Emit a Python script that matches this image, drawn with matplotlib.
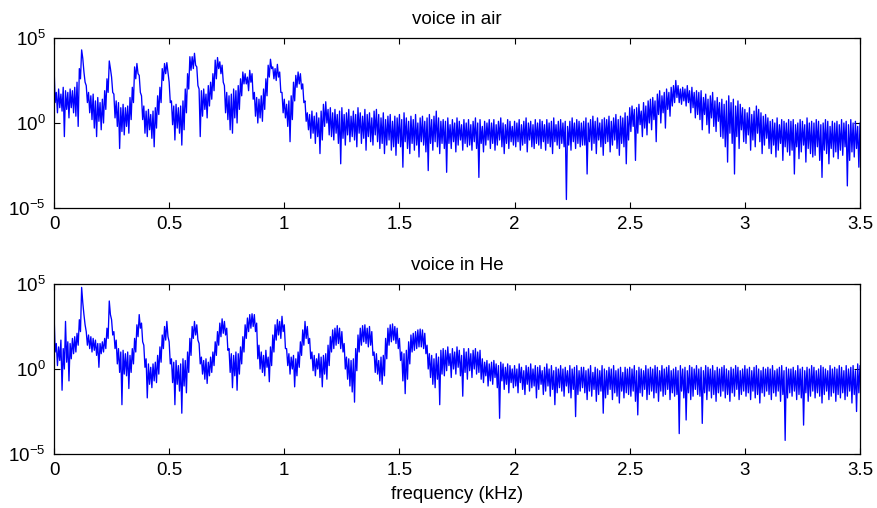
import numpy as np
import matplotlib
matplotlib.use("Agg")
import matplotlib.pyplot as plt
from matplotlib.ticker import FixedLocator, NullLocator, FixedFormatter

plt.rcParams['font.family'] = ['Liberation Sans', 'DejaVu Sans']
plt.rcParams['mathtext.fontset'] = 'custom'
plt.rcParams['mathtext.rm'] = 'Liberation Sans'
plt.rcParams['mathtext.it'] = 'Liberation Sans'

# frequency grid (kHz) step 0.01, each bin has an upper and lower sample (log10 magnitude)
freq_step = 0.01
n_bins = 351

# ---------------- voice in air ----------------
air_hi = [
 3.4, 1.8, 2.0, 1.7, 2.1, 1.9, 1.8, 2.0, 1.9, 2.1,
 2.4, 3.2, 4.3, 3.0, 2.2, 1.8, 1.6, 1.7, 1.3, 1.5,
 1.2, 1.4, 1.9, 2.6, 3.65, 2.7, 1.7, 1.3, 1.2, 0.9,
 1.1, 0.9, 1.0, 1.5, 2.1, 3.3, 3.5, 2.8, 1.6, 1.0,
 0.7, 0.8, 0.5, 0.7, 0.9, 1.6, 2.1, 3.2, 3.5, 3.55,
 2.4, 1.3, 1.0, 1.1, 0.9, 1.0, 1.3, 2.0, 2.9, 3.9,
 3.9, 4.1, 3.3, 2.0, 1.9, 2.0, 1.7, 2.2, 2.4, 2.9,
 3.7, 3.85, 3.6, 3.4, 2.2, 1.8, 1.6, 1.7, 2.0, 1.9,
 2.2, 2.6, 3.0, 2.9, 2.7, 3.1, 2.9, 1.8, 1.5, 1.4,
 1.6, 2.0, 2.6, 3.4, 3.75, 3.3, 3.2, 3.45, 3.0, 1.8,
 1.4, 1.1, 1.3, 1.6, 2.4, 2.8, 3.0, 2.9, 2.3, 1.3,
 0.6, 0.5, 0.7, 0.4, 0.6, 0.3, 0.7, 1.1, 1.25, 0.8,
 0.9, 0.6, 0.8, 0.5, 0.7, 0.9, 0.5, 0.6, 0.8, 0.4,
 0.7, 0.5, 0.9, 0.6, 0.4, 0.8, 0.5, 0.6, 0.3, 0.7,
 0.8, 0.5, 0.3, 0.6, 0.2, 0.4, 0.5, 0.1, 0.4, 0.3,
 0.5, 0.2, 0.6, 0.3, 0.1, 0.4, 0.2, 0.5, 0.0, 0.3,
 0.4, 0.1, 0.3, 0.5, 0.2, 0.4, 0.7, 0.3, 0.1, 0.2,
 0.1, 0.3, -0.1, 0.2, 0.0, 0.3, 0.1, -0.1, 0.2, 0.0,
 0.2, -0.1, 0.1, 0.3, 0.0, 0.2, -0.2, 0.1, 0.0, 0.2,
 0.0, 0.2, -0.1, 0.1, 0.3, 0.0, -0.1, 0.2, 0.1, -0.2,
 0.1, 0.0, 0.2, -0.1, 0.1, 0.3, 0.0, 0.1, -0.1, 0.2,
 0.0, 0.2, 0.1, -0.1, 0.2, 0.0, 0.1, 0.3, -0.1, 0.1,
 0.2, 0.0, 0.1, -0.2, 0.1, 0.3, 0.0, 0.2, 0.1, 0.0,
 0.1, 0.3, 0.0, 0.2, 0.4, 0.1, 0.3, 0.0, 0.2, 0.3,
 0.2, 0.4, 0.1, 0.3, 0.5, 0.2, 0.4, 0.3, 0.6, 0.4,
 0.9, 1.0, 0.8, 0.9, 1.1, 0.7, 1.2, 1.0, 1.3, 1.4,
 1.5, 1.3, 1.7, 1.9, 1.6, 1.8, 2.0, 1.8, 2.1, 2.2,
 2.5, 2.2, 2.0, 2.1, 2.0, 2.2, 1.9, 2.1, 1.8, 1.9,
 1.8, 1.9, 1.5, 1.7, 1.4, 1.6, 1.8, 1.3, 1.5, 1.2,
 1.4, 1.1, 1.3, 1.6, 1.2, 1.4, 1.0, 1.3, 1.1, 0.9,
 0.8, 0.6, 0.9, 0.5, 0.7, 1.0, 0.8, 0.6, 0.4, 0.5,
 0.3, 0.1, 0.2, 0.0, 0.3, -0.1, 0.2, 0.1, 0.0, 0.2,
 0.1, 0.2, -0.1, 0.0, 0.2, 0.1, -0.1, 0.3, 0.0, 0.1,
 0.0, 0.2, 0.1, -0.1, 0.0, 0.2, 0.1, -0.2, 0.1, 0.0,
 0.1, -0.1, 0.2, 0.0, 0.1, -0.1, 0.2, 0.0, 0.1, -0.2, 0.0,
]
air_lo = [
 1.2, 0.6, 0.9, 0.7, -0.8, 0.8, 0.3, 0.9, 0.6, 0.4,
 -0.2, 2.6, 3.8, 2.4, 1.2, 0.6, 0.2, -0.3, -0.8, 0.1,
 -0.4, 0.0, 0.8, 1.8, 3.2, 1.8, 0.3, -0.2, -1.5, -0.5,
 -0.7, -0.2, -0.6, 0.2, 1.2, 2.6, 2.9, 1.8, 0.2, -0.6,
 -0.8, -0.4, -0.9, -1.4, -0.3, 0.5, 1.2, 2.5, 2.9, 3.0,
 1.2, -0.1, -1.0, -0.3, -0.6, -1.3, -0.4, 0.6, 2.0, 3.1,
 3.2, 3.4, 2.2, -0.8, 0.4, 0.8, 0.3, 1.0, 1.4, 1.9,
 2.6, 3.2, 2.9, 2.4, 0.6, 0.2, -0.4, -0.6, 0.3, 0.0,
 0.8, 1.6, 2.3, 2.3, 1.9, 2.4, 1.4, 0.4, 0.0, 0.3,
 0.1, 0.8, 1.6, 2.7, 3.2, 2.6, 2.5, 2.7, 1.8, 0.6,
 0.3, -0.2, -1.1, 0.2, 1.3, 2.1, 2.3, 2.0, 1.2, 0.1,
 -0.4, -0.9, -0.6, -1.2, -0.8, -1.8, -1.0, -0.2, 0.0, -0.7,
 -0.8, -1.0, -0.6, -1.2, -2.4, -0.9, -1.3, -0.7, -1.1, -0.8,
 -1.0, -1.4, -0.6, -1.2, -0.9, -1.6, -0.8, -1.1, -1.3, -0.7,
 -1.1, -1.5, -1.2, -1.8, -1.3, -1.0, -1.6, -1.4, -1.9, -1.2,
 -1.4, -2.6, -1.1, -1.5, -1.8, -1.2, -1.6, -1.3, -2.0, -1.1,
 -1.3, -1.7, -2.8, -1.2, -1.6, -1.1, -1.4, -1.8, -1.2, -1.5,
 -2.9, -1.2, -1.5, -1.1, -1.7, -1.3, -1.0, -1.6, -1.2, -1.4,
 -1.3, -1.6, -1.1, -1.5, -3.2, -1.2, -1.7, -1.3, -1.0, -1.5,
 -1.2, -1.6, -1.3, -1.0, -1.4, -1.8, -1.2, -1.5, -1.1, -1.3,
 -1.4, -1.1, -1.6, -1.3, -1.2, -1.7, -1.0, -1.4, -1.5, -1.2,
 -1.3, -1.5, -1.1, -1.6, -1.2, -1.4, -1.8, -1.1, -1.3, -1.5,
 -1.2, -1.4, -4.5, -1.3, -1.6, -1.1, -1.5, -1.2, -1.4, -1.3,
 -1.3, -3.0, -1.1, -1.6, -1.2, -1.8, -1.0, -1.4, -1.9, -1.2,
 -1.1, -1.7, -1.3, -1.0, -1.5, -1.9, -1.2, -1.4, -2.4, -1.0,
 -0.5, -0.2, -2.2, -0.6, -0.1, -0.8, -0.3, -0.7, 0.0, -0.4,
 0.2, -1.1, 0.5, 0.0, 0.6, -0.3, 0.8, 0.4, 1.0, 1.2,
 1.5, 1.2, 1.1, 1.3, 1.0, 1.2, 0.6, 0.9, 0.3, 0.5,
 0.2, -0.4, 0.5, -0.1, -0.6, 0.3, -0.2, -0.5, 0.1, -0.8,
 -0.9, -1.4, -2.3, -0.6, -1.2, -3.0, -0.8, -1.5, -0.4, -1.1,
 -1.2, -0.7, -1.6, -1.0, -1.4, -0.6, -1.1, -1.8, -1.3, -0.9,
 -1.5, -1.8, -1.3, -2.0, -1.6, -1.2, -2.2, -1.4, -1.7, -1.9,
 -1.6, -3.0, -1.4, -2.1, -1.7, -1.3, -2.3, -1.5, -1.8, -2.0,
 -1.9, -1.4, -2.2, -3.2, -1.6, -1.8, -2.4, -1.5, -2.0, -1.7,
 -2.1, -1.6, -1.9, -1.4, -3.7, -2.2, -1.7, -2.0, -1.5, -2.6, -0.6,
]

# ---------------- voice in He ----------------
he_hi = [
 3.35, 1.5, 1.3, 1.7, 1.2, 2.8, 1.6, 1.5, 1.8, 1.9,
 2.1, 2.9, 4.8, 3.2, 2.2, 2.0, 1.9, 1.8, 1.7, 1.5,
 1.5, 1.6, 1.8, 2.4, 4.0, 2.9, 2.2, 1.7, 1.2, 1.0,
 1.1, 0.9, 1.0, 0.8, 1.2, 1.8, 2.6, 3.2, 2.7, 1.4,
 0.6, 0.3, 0.1, 0.3, 0.4, 0.8, 1.3, 2.0, 2.5, 2.8,
 1.6, 0.6, 0.4, 0.5, 0.2, 0.3, 0.6, 0.5, 1.0, 1.8,
 2.5, 2.8, 2.6, 1.5, 0.7, 0.5, 0.6, 0.4, 0.7, 1.0,
 1.6, 2.2, 2.7, 2.95, 2.8, 2.4, 1.2, 0.9, 0.8, 1.0,
 0.9, 1.3, 1.9, 2.6, 3.0, 3.2, 3.25, 3.2, 2.7, 1.4,
 1.0, 0.8, 1.1, 0.7, 1.3, 2.0, 2.6, 2.9, 2.8, 3.1,
 2.6, 1.2, 0.9, 0.7, 0.8, 0.6, 1.0, 1.6, 2.3, 2.8,
 2.5, 1.8, 1.0, 0.8, 0.6, 0.9, 0.7, 0.8, 0.9, 1.4,
 1.9, 2.3, 2.4, 2.55, 2.4, 2.2, 1.5, 0.7, 0.6, 0.5,
 0.6, 1.2, 2.0, 2.4, 2.55, 2.6, 2.4, 2.5, 2.2, 1.0,
 0.9, 0.5, 0.7, 0.8, 1.8, 2.4, 2.6, 2.65, 2.5, 2.4,
 1.8, 1.0, 0.9, 1.1, 1.6, 2.0, 2.1, 2.2, 2.3, 2.35,
 2.3, 2.1, 1.4, 0.9, 0.8, 0.6, 0.9, 0.7, 1.1, 1.2,
 1.1, 1.3, 0.9, 1.2, 1.0, 1.3, 1.1, 0.8, 1.2, 1.0,
 1.2, 0.9, 1.1, 1.2, 1.0, 1.1, 0.6, 0.4, 0.5, 0.3,
 0.4, 0.5, 0.3, 0.2, 0.4, 0.3, 0.1, 0.3, 0.2, 0.0,
 0.2, 0.0, 0.3, 0.1, -0.1, 0.2, 0.1, 0.3, 0.0, 0.2,
 0.1, 0.2, -0.1, 0.1, 0.3, 0.0, 0.2, -0.1, 0.1, 0.0,
 0.2, 0.0, 0.1, -0.1, 0.2, 0.0, 0.1, 0.2, -0.1, 0.1,
 0.1, -0.1, 0.0, 0.2, -0.2, 0.1, 0.0, -0.1, 0.2, 0.0,
 -0.1, 0.1, 0.0, 0.2, -0.1, 0.0, 0.1, -0.2, 0.1, 0.0,
 0.1, 0.0, 0.2, -0.1, 0.1, 0.0, -0.1, 0.2, 0.0, 0.1,
 0.0, 0.2, 0.1, -0.1, 0.2, 0.0, 0.1, 0.2, -0.1, 0.0,
 0.1, -0.1, 0.2, 0.0, 0.1, -0.1, 0.2, 0.1, 0.0, 0.2,
 0.0, 0.1, -0.1, 0.2, 0.1, 0.0, 0.2, -0.1, 0.1, 0.0,
 0.1, 0.2, 0.0, -0.1, 0.1, 0.0, 0.2, 0.1, -0.1, 0.0,
 0.2, 0.0, 0.1, -0.1, 0.1, 0.2, 0.0, -0.1, 0.1, 0.0,
 0.1, 0.0, 0.2, -0.1, 0.0, 0.1, 0.2, -0.1, 0.1, 0.0,
 0.0, 0.1, -0.1, 0.2, 0.0, 0.1, -0.1, 0.1, 0.0, 0.2,
 0.1, -0.1, 0.0, 0.2, 0.1, 0.0, -0.1, 0.2, 0.0, 0.1,
 0.0, 0.2, 0.1, -0.1, 0.2, 0.0, 0.1, 0.2, -0.1, 0.3, 0.2,
]
he_lo = [
 1.0, 0.2, 0.5, -1.25, 0.0, 0.4, -0.7, 0.6, 0.9, 1.0,
 1.4, 2.2, 3.9, 2.6, 1.4, 1.2, 1.0, 1.1, 0.8, 0.1,
 0.9, 1.0, 1.2, 1.8, 3.2, 2.0, 1.2, 0.3, -0.2, -2.1,
 -0.3, -0.4, -1.15, -0.2, 0.3, 1.0, 1.9, 2.4, 1.6, 0.1,
 -1.7, -0.9, -1.1, -0.7, -0.8, -0.3, 0.4, 1.2, 1.7, 1.9,
 0.3, -0.8, -2.1, -0.9, -1.3, -2.6, -1.0, -1.4, -0.2, 0.8,
 1.8, 2.0, 1.7, 0.3, -0.3, -0.6, -0.85, -0.4, -0.2, 0.2,
 0.8, 1.4, 1.9, 2.1, 2.0, 1.1, -0.2, -1.1, -0.4, -1.25,
 -0.3, 0.3, 1.0, 1.8, 2.2, 2.4, 2.5, 2.2, 0.6, 0.0,
 -0.2, -0.4, 0.1, -0.75, 0.2, 1.0, 1.7, 2.0, 1.8, 2.2,
 1.2, 0.2, -0.3, 0.0, -1.05, -0.4, 0.1, 0.8, 1.4, 1.8,
 1.5, 0.6, -0.1, -0.4, 0.0, -0.5, -1.05, -0.3, -0.6, 0.2,
 1.0, 1.2, 1.4, 1.5, 1.2, 1.0, 0.0, -0.6, -1.0, -1.35,
 -1.95, -0.1, 1.0, 1.4, 1.6, 1.5, 1.3, 1.4, 0.8, -0.2,
 -0.3, -0.7, -0.9, -0.4, 0.6, 1.4, 1.6, 1.7, 1.5, 1.2,
 0.5, -0.7, -1.45, -0.6, 0.3, 1.0, 1.1, 1.2, 1.3, 1.3,
 1.2, 0.9, 0.0, -0.5, -0.9, -1.1, -0.6, -2.1, -0.3, -0.4,
 -0.1, 0.2, -0.5, 0.0, -0.3, 0.1, -0.4, -1.6, -0.2, -0.6,
 -0.1, -0.5, 0.0, -0.3, -0.2, -0.6, -0.8, -0.4, -1.0, -0.7,
 -0.9, -0.5, -1.1, -2.9, -0.7, -1.2, -0.9, -1.4, -0.8, -1.1,
 -1.0, -1.4, -0.8, -1.2, -1.5, -0.9, -1.3, -1.1, -1.0, -1.7,
 -1.2, -0.9, -1.5, -1.3, -1.0, -1.6, -1.2, -2.1, -1.4, -1.1,
 -1.3, -1.6, -1.0, -1.4, -1.7, -1.2, -2.8, -1.5, -1.3, -1.1,
 -1.4, -1.8, -1.3, -1.6, -1.2, -1.9, -1.5, -1.3, -2.6, -1.7,
 -1.5, -1.2, -1.8, -1.4, -1.6, -2.0, -1.3, -1.7, -1.4, -1.5,
 -1.6, -1.3, -1.9, -2.7, -1.4, -1.6, -1.2, -1.8, -1.5, -1.3,
 -1.7, -1.4, -1.9, -1.3, -1.6, -1.5, -1.2, -1.8, -1.4, -1.6,
 -1.5, -3.8, -1.3, -1.7, -3.0, -1.4, -1.8, -1.6, -1.2, -1.5,
 -1.6, -3.2, -1.4, -1.8, -1.3, -1.7, -1.5, -1.9, -1.4, -1.6,
 -1.3, -1.7, -1.5, -1.9, -1.4, -1.6, -1.2, -1.8, -1.5, -1.3,
 -1.6, -1.4, -1.8, -1.3, -1.7, -1.5, -2.0, -1.4, -1.6, -1.3,
 -1.5, -1.8, -1.4, -1.6, -1.3, -1.9, -1.5, -4.2, -1.7, -1.4,
 -1.6, -1.3, -1.8, -1.5, -1.7, -3.3, -1.4, -1.9, -1.6, -1.3,
 -1.7, -1.4, -1.6, -2.0, -1.5, -1.3, -1.8, -1.6, -1.4, -1.9,
 -1.5, -1.7, -1.4, -1.8, -1.6, -1.3, -2.0, -1.5, -2.5, -1.4, -0.5,
]

titles = ["voice in air", "voice in He"]
xticks = [0, 0.5, 1, 1.5, 2, 2.5, 3, 3.5]
xtick_labels = ["0", "0.5", "1", "1.5", "2", "2.5", "3", "3.5"]
yticks = [1e-5, 1e0, 1e5]
ytick_labels = [r"$10^{-5}$", r"$10^{0}$", r"$10^{5}$"]
xlabel = "frequency (kHz)"


def interleave(hi, lo):
    f = np.arange(n_bins) * freq_step
    x = np.empty(2 * n_bins)
    y = np.empty(2 * n_bins)
    x[0::2] = f
    x[1::2] = f + freq_step / 2
    y[0::2] = 10.0 ** np.asarray(hi)
    y[1::2] = 10.0 ** np.asarray(lo)
    return x, y


W, H = 877, 508
fig = plt.figure(figsize=(W / 100, H / 100), dpi=100)
rects = [
    [54 / W, 1 - 208 / H, 806 / W, 170 / H],
    [54 / W, 1 - 454 / H, 806 / W, 170 / H],
]
data = [(air_hi, air_lo), (he_hi, he_lo)]

for i, (rect, (hi, lo)) in enumerate(zip(rects, data)):
    ax = fig.add_axes(rect)
    x, y = interleave(hi, lo)
    ax.plot(x, y, color=(0, 0, 1), lw=0.95)
    ax.set_yscale('log')
    ax.set_xlim(0, 3.5)
    ax.set_ylim(1e-5, 1e5)
    ax.xaxis.set_major_locator(FixedLocator(xticks))
    ax.xaxis.set_major_formatter(FixedFormatter(xtick_labels))
    ax.yaxis.set_major_locator(FixedLocator(yticks))
    ax.yaxis.set_major_formatter(FixedFormatter(ytick_labels))
    ax.yaxis.set_minor_locator(NullLocator())
    ax.xaxis.set_minor_locator(NullLocator())
    ax.tick_params(direction='in', top=True, right=True, length=4.5,
                   width=0.8, labelsize=13.5, pad=6, colors='black')
    for s in ax.spines.values():
        s.set_linewidth(0.9)
    ax.set_title(titles[i], fontsize=13.5, pad=10)
    if i == 1:
        ax.set_xlabel(xlabel, fontsize=13.5, labelpad=5)

fig.savefig("out.png", dpi=100)
